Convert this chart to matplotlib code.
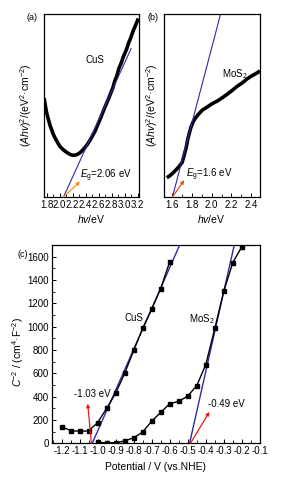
import numpy as np
import matplotlib
matplotlib.use("Agg")
import matplotlib.pyplot as plt
from matplotlib.ticker import MultipleLocator

plt.rcParams['font.family'] = ['Liberation Sans', 'DejaVu Sans']
plt.rcParams['mathtext.fontset'] = 'custom'
plt.rcParams['mathtext.rm'] = 'Liberation Sans'
plt.rcParams['mathtext.it'] = 'Liberation Sans:italic'
plt.rcParams['mathtext.bf'] = 'Liberation Sans:bold'

# (a) CuS Tauc plot (arbitrary units)
cus_hv = [1.762, 1.78, 1.80, 1.83, 1.854, 1.88, 1.90, 1.93, 1.957, 1.98, 2.008, 2.05, 2.085,
          2.12, 2.16, 2.19, 2.212, 2.24, 2.27, 2.315, 2.366, 2.423, 2.469, 2.546, 2.623,
          2.685, 2.751, 2.79, 2.823, 2.85, 2.88, 2.91, 2.946, 2.98, 3.01, 3.034, 3.06,
          3.085, 3.11, 3.135, 3.16, 3.177, 3.195, 3.212]
cus_ahv = [0.54, 0.50, 0.46, 0.42, 0.39, 0.365, 0.345, 0.322, 0.305, 0.29, 0.275, 0.26, 0.25,
           0.241, 0.233, 0.229, 0.228, 0.229, 0.232, 0.242, 0.26, 0.285, 0.311, 0.36, 0.425,
           0.48, 0.535, 0.57, 0.60, 0.635, 0.66, 0.70, 0.73, 0.765, 0.79, 0.81, 0.84,
           0.86, 0.885, 0.91, 0.93, 0.945, 0.96, 0.975]
cus_fit_hv = [2.06, 3.10]
cus_fit_y = [0.0, 0.81]

# (b) MoS2 Tauc plot (arbitrary units)
mos_hv = [1.543, 1.57, 1.603, 1.64, 1.67, 1.70, 1.72, 1.74, 1.754, 1.77, 1.788, 1.81, 1.839,
          1.87, 1.905, 1.95, 2.006, 2.06, 2.107, 2.16, 2.208, 2.26, 2.308, 2.36, 2.409,
          2.443, 2.475, 2.49]
mos_ahv = [0.105, 0.115, 0.13, 0.15, 0.168, 0.19, 0.23, 0.27, 0.31, 0.345, 0.38, 0.41, 0.435,
           0.455, 0.475, 0.49, 0.51, 0.525, 0.542, 0.562, 0.582, 0.605, 0.622, 0.645, 0.662,
           0.672, 0.682, 0.69]
mos_fit_hv = [1.60, 2.13]
mos_fit_y = [0.0, 1.08]

# (c) Mott-Schottky
cus_v = [-1.2, -1.15, -1.1, -1.05, -1.0, -0.95, -0.9, -0.85, -0.8, -0.75, -0.7, -0.65, -0.6]
cus_c2 = [143, 109, 103, 106, 178, 300, 430, 600, 797, 985, 1150, 1327, 1557]
mos_v = [-1.0, -0.95, -0.9, -0.85, -0.8, -0.75, -0.7, -0.65, -0.6, -0.55, -0.5, -0.45,
         -0.4, -0.35, -0.3, -0.25, -0.2]
mos_c2 = [8, 4, 6, 20, 48, 97, 190, 265, 340, 360, 405, 495, 675, 985, 1305, 1550, 1685]
cus_line_v = [-1.03, -0.545]
mos_line_v = [-0.49, -0.242]
line_c2 = [0, 1700]

blue = '#2b2ba6'

fig = plt.figure(figsize=(2.84, 4.95), dpi=100)
axa = fig.add_axes([0.155, 0.602, 0.334, 0.370])
axb = fig.add_axes([0.576, 0.602, 0.339, 0.370])
axc = fig.add_axes([0.182, 0.1044, 0.733, 0.4006])

ylab_ab = r'($\it{Ahv}$)$^2$/(eV$^2$·cm$^{-2}$)'
xlab_ab = r'$\it{hv}$/eV'

# panel a
axa.plot(cus_hv, cus_ahv, color='black', lw=2.6, solid_capstyle='butt')
axa.plot(cus_fit_hv, cus_fit_y, color=blue, lw=0.8)
axa.set_xlim(1.76, 3.22)
axa.set_ylim(0, 1)
axa.xaxis.set_major_locator(MultipleLocator(0.2))
axa.xaxis.set_minor_locator(MultipleLocator(0.1))
axa.annotate('', xy=(2.315, 0.085), xytext=(2.06, 0.0),
             arrowprops=dict(arrowstyle='-|>', color='#ff8c1a', lw=0.9,
                             mutation_scale=5, shrinkA=0, shrinkB=0))
axa.text(2.32, 0.115, r'$\it{E}$$_\mathrm{g}$=2.06 eV', fontsize=7, va='center', ha='left')
axa.text(2.55, 0.75, 'CuS', fontsize=7, ha='center', va='center')
axa.set_ylabel(ylab_ab, fontsize=7.5)
axa.yaxis.set_label_coords(-0.11, 0.5)
axa.set_xlabel(xlab_ab, fontsize=7.5, labelpad=2)

# panel b
axb.plot(mos_hv, mos_ahv, color='black', lw=2.6, solid_capstyle='butt')
axb.plot(mos_fit_hv, mos_fit_y, color=blue, lw=0.8)
axb.set_xlim(1.51, 2.49)
axb.set_ylim(0, 1)
axb.xaxis.set_major_locator(MultipleLocator(0.2))
axb.xaxis.set_minor_locator(MultipleLocator(0.1))
axb.annotate('', xy=(1.72, 0.092), xytext=(1.60, 0.0),
             arrowprops=dict(arrowstyle='-|>', color='#e8501a', lw=0.9,
                             mutation_scale=5, shrinkA=0, shrinkB=0))
axb.text(1.735, 0.12, r'$\it{E}$$_\mathrm{g}$=1.6 eV', fontsize=7, va='center', ha='left')
axb.text(2.24, 0.67, r'MoS$_2$', fontsize=7, ha='center', va='center')
axb.set_ylabel(ylab_ab, fontsize=7.5)
axb.yaxis.set_label_coords(-0.04, 0.5)
axb.set_xlabel(xlab_ab, fontsize=7.5, labelpad=2)

for ax in (axa, axb):
    ax.set_yticks([])
    ax.tick_params(axis='x', which='major', direction='in', length=3, width=0.7,
                   labelsize=7, pad=2, top=False)
    ax.tick_params(axis='x', which='minor', direction='in', length=2, width=0.6, top=False)
    for s in ax.spines.values():
        s.set_linewidth(0.9)

# panel c
axc.plot(cus_line_v, line_c2, color=blue, lw=1.0, zorder=2)
axc.plot(mos_line_v, line_c2, color=blue, lw=1.0, zorder=2)
axc.plot(cus_v, cus_c2, color='black', lw=1.0, marker='s', ms=3.2, zorder=3)
axc.plot(mos_v, mos_c2, color='black', lw=1.0, marker='s', ms=3.2, zorder=3)
axc.annotate('', xy=(-1.055, 340), xytext=(-1.035, 0),
             arrowprops=dict(arrowstyle='-|>', color='#e8191a', lw=0.9,
                             mutation_scale=5, shrinkA=0, shrinkB=0))
axc.annotate('', xy=(-0.38, 270), xytext=(-0.485, 0),
             arrowprops=dict(arrowstyle='-|>', color='#e8191a', lw=0.9,
                             mutation_scale=5, shrinkA=0, shrinkB=0))
axc.text(-1.03, 421, '-1.03 eV', fontsize=7, ha='center', va='center')
axc.text(-0.39, 338, '-0.49 eV', fontsize=7, ha='left', va='center')
axc.text(-0.80, 1075, 'CuS', fontsize=7, ha='center', va='center')
axc.text(-0.42, 1062, r'MoS$_2$', fontsize=7, ha='center', va='center')
axc.set_xlim(-1.255, -0.1)
axc.set_ylim(0, 1700)
axc.xaxis.set_major_locator(MultipleLocator(0.1))
axc.xaxis.set_minor_locator(MultipleLocator(0.05))
axc.yaxis.set_major_locator(MultipleLocator(200))
axc.yaxis.set_minor_locator(MultipleLocator(100))
axc.xaxis.set_major_formatter(plt.FuncFormatter(lambda v, p: '%.1f' % v if abs(v) > 1e-9 else '0'))
axc.tick_params(which='major', direction='in', length=3, width=0.7, labelsize=7, pad=2)
axc.tick_params(which='minor', direction='in', length=2, width=0.6)
for s in axc.spines.values():
    s.set_linewidth(0.9)
axc.set_ylabel(r'$\it{C}$$^{-2}$ / (cm$^4$·F$^{-2}$)', fontsize=7.5)
axc.yaxis.set_label_coords(-0.125, 0.46)
axc.set_xlabel('Potential / V (vs.NHE)', fontsize=7.5, labelpad=4)

fig.text(0.095, 0.964, '(a)', fontsize=6.5, ha='left', va='center')
fig.text(0.521, 0.964, '(b)', fontsize=6.5, ha='left', va='center')
fig.text(0.06, 0.485, '(c)', fontsize=6.5, ha='left', va='center')

fig.savefig('out.png', dpi=100)
